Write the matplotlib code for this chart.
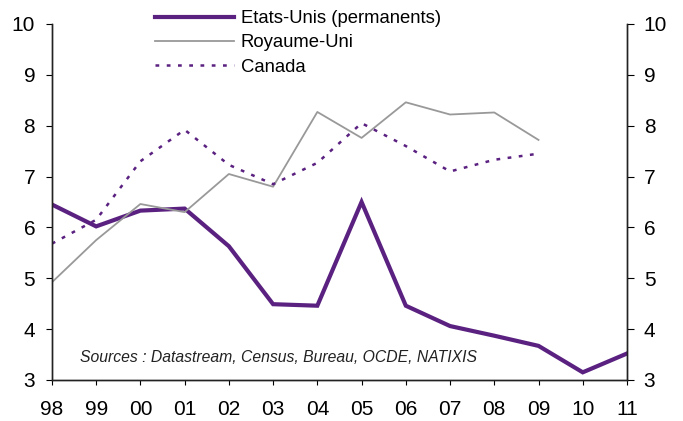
import matplotlib.pyplot as plt

plt.rcParams['font.family'] = ['Liberation Sans', 'DejaVu Sans']

years = ["98", "99", "00", "01", "02", "03", "04", "05", "06", "07", "08", "09", "10", "11"]
us = [6.45, 6.02, 6.33, 6.37, 5.63, 4.49, 4.46, 6.50, 4.46, 4.06, 3.87, 3.67, 3.15, 3.52]
uk = [4.92, 5.75, 6.46, 6.30, 7.05, 6.80, 8.27, 7.76, 8.46, 8.22, 8.26, 7.72]
canada = [5.68, 6.15, 7.30, 7.92, 7.23, 6.85, 7.27, 8.05, 7.60, 7.10, 7.33, 7.45]

purple = "#5a2180"

fig = plt.figure(figsize=(6.83, 4.21), dpi=100)
ax = fig.add_axes([0.076, 0.0975, 0.842, 0.8455])

x = list(range(len(years)))
ax.plot(x, us, color=purple, lw=3, label="Etats-Unis (permanents)", solid_joinstyle="miter")
ax.plot(x[:len(uk)], uk, color="#999999", lw=1.3, label="Royaume-Uni")
ax.plot(x[:len(canada)], canada, color=purple, lw=1.8, ls=(0, (1.5, 3)), label="Canada")

ax.set_xlim(0, len(years) - 1)
ax.set_ylim(3, 10)
ax.set_xticks(x)
ax.set_xticklabels(years, fontsize=15)
ax.set_yticks(range(3, 11))
ax.tick_params(axis="y", labelsize=15, direction="out", length=4, pad=8)
ax.tick_params(axis="x", direction="out", length=3.6, pad=10.5)
ax.spines["top"].set_visible(False)

ax2 = ax.twinx()
ax2.set_ylim(3, 10)
ax2.set_yticks(range(3, 11))
ax2.tick_params(axis="y", labelsize=15, direction="out", length=5, pad=7)
ax2.spines["top"].set_visible(False)

for a in (ax, ax2):
    for s in a.spines.values():
        s.set_color("#222222")
        s.set_linewidth(1)

ax.text(0.049, 0.05, "Sources : Datastream, Census, Bureau, OCDE, NATIXIS",
        transform=ax.transAxes, fontsize=11.3, style="italic", color="#222222")

fig.legend(*ax.get_legend_handles_labels(), loc="upper left",
           bbox_to_anchor=(0.227, 0.976), frameon=False,
           fontsize=13.3, handlelength=4.3, labelspacing=0.4, handletextpad=0.35,
           borderaxespad=0, borderpad=0)

fig.savefig("out.png", dpi=100)
